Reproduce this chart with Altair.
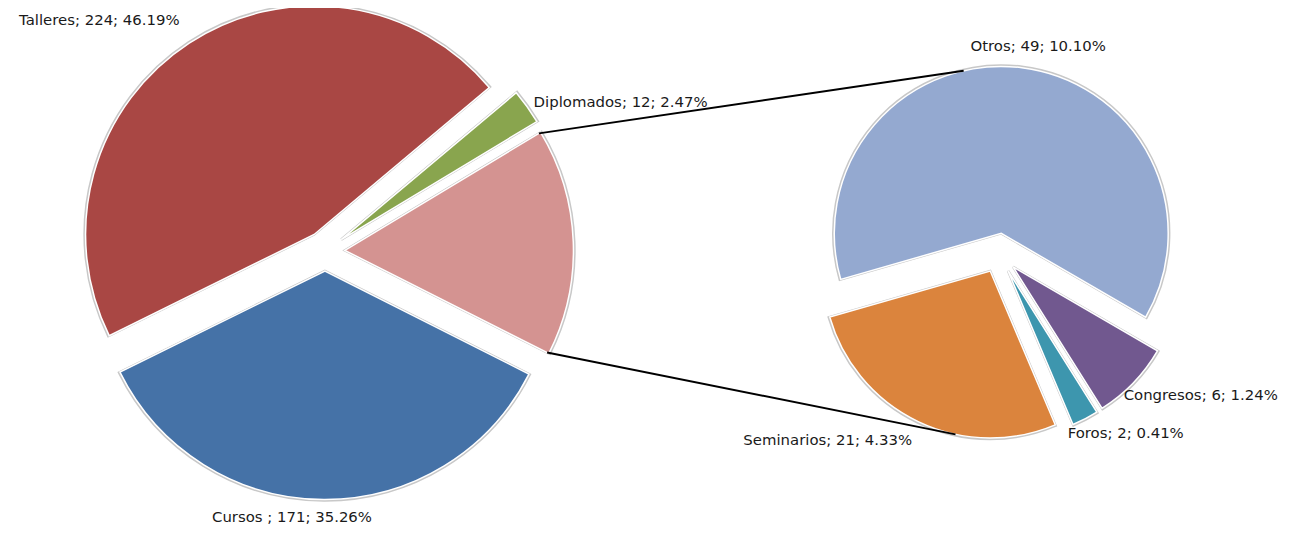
import math
import altair as alt
import pandas as pd

# ---------------- data ----------------
main_cats = ["Diplomados", "Otros (agrupado)", "Cursos", "Talleres"]
main_vals = [12, 78, 171, 224]
main_names = ["Diplomados", "", "Cursos ", "Talleres"]

sec_cats = ["Otros", "Congresos", "Foros", "Seminarios"]
sec_vals = [49, 6, 2, 21]

colors = {
    "Talleres": "#A94744", "Diplomados": "#89A54E", "Otros (agrupado)": "#D49391",
    "Cursos": "#4572A7", "Otros": "#94A9D0", "Seminarios": "#DB843D",
    "Foros": "#3D96AE", "Congresos": "#71588F",
}

# ---------------- layout / style ----------------
W, H = 1283, 526
MAIN = dict(cx=327, cy=251, r=230, d=20, start=50.0)
SEC = dict(cx=1005, cy=253, r=168, d=20, start=254.0)
# label placement: (radius, angle nudge in degrees, align)
main_lab = {"Diplomados": (258, 0.0, "left"), "Cursos": (270, 6.8, "center"),
            "Talleres": (275, 1.0, "right")}
sec_lab = {"Otros": (212, 3.7, "center"), "Congresos": (190, 4.6, "left"),
           "Foros": (194, 6.6, "left"), "Seminarios": (207, -0.6, "right")}

total = sum(main_vals)

def build(cats, vals, geo, names, labs):
    rows, texts = [], []
    s = sum(vals)
    a = geo["start"]
    for c, v, n in zip(cats, vals, names):
        span = v / s * 360.0
        t0, t1 = a, a + span
        mid = math.radians((t0 + t1) / 2)
        cx = geo["cx"] + geo["d"] * math.sin(mid)
        cy = geo["cy"] - geo["d"] * math.cos(mid)
        rows.append(dict(cat=c, t0=math.radians(t0), t1=math.radians(t1), x=cx, y=cy,
                         mid=mid, ecx=cx, ecy=cy))
        if n and c in labs:
            lr, nud, al = labs[c]
            la = mid + math.radians(nud)
            texts.append(dict(label=f"{n}; {v}; {v / total * 100:.2f}%",
                              x=geo["cx"] + lr * math.sin(la),
                              y=geo["cy"] - lr * math.cos(la), align=al))
        a = t1
    return rows, texts

m_rows, m_txt = build(main_cats, main_vals, MAIN, main_names, main_lab)
s_rows, s_txt = build(sec_cats, sec_vals, SEC, sec_cats, sec_lab)

# connector lines from the grouped slice to the secondary pie
g = [r for r in m_rows if r["cat"] == "Otros (agrupado)"][0]
ot = [r for r in s_rows if r["cat"] == "Otros"][0]
se = [r for r in s_rows if r["cat"] == "Seminarios"][0]
def pt(cx, cy, r, th):
    return cx + r * math.sin(th), cy - r * math.cos(th)
p1 = pt(g["ecx"], g["ecy"], MAIN["r"] - 2, g["t0"])
p2 = pt(ot["ecx"], ot["ecy"], SEC["r"], math.radians(-13))
p3 = pt(g["ecx"], g["ecy"], MAIN["r"] - 2, g["t1"])
p4 = pt(se["ecx"], se["ecy"], SEC["r"], math.radians(192))
lines = pd.DataFrame([dict(x=p1[0], y=p1[1], x2=p2[0], y2=p2[1]),
                      dict(x=p3[0], y=p3[1], x2=p4[0], y2=p4[1])])

xs = alt.Scale(domain=[8, 8 + W], range=[0, W])
ys = alt.Scale(domain=[8, 8 + H], range=[0, H])
col = alt.Scale(domain=list(colors.keys()), range=list(colors.values()))

def pie(rows, r):
    df = pd.DataFrame(rows)
    base = alt.Chart(df).encode(
        x=alt.X("x:Q", scale=xs, axis=None),
        y=alt.Y("y:Q", scale=ys, axis=None),
        theta=alt.Theta("t0:Q", scale=None),
        theta2="t1:Q",
        color=alt.Color("cat:N", scale=col, legend=None),
    )
    shadow = base.mark_arc(radius=r + 1, stroke="#c8c8c8", strokeWidth=2.5)
    face = base.mark_arc(radius=r, stroke="white", strokeWidth=1.5)
    return shadow + face

def labels(texts):
    df = pd.DataFrame(texts)
    out = []
    for al in ["left", "center", "right"]:
        sub = df[df["align"] == al]
        if len(sub) == 0:
            continue
        out.append(alt.Chart(sub).mark_text(align=al, baseline="middle", font="DejaVu Sans",
                                            fontSize=15, color="#1a1a1a").encode(
            x=alt.X("x:Q", scale=xs, axis=None),
            y=alt.Y("y:Q", scale=ys, axis=None),
            text="label:N"))
    return alt.layer(*out)

conn = alt.Chart(lines).mark_rule(color="black", strokeWidth=2).encode(
    x=alt.X("x:Q", scale=xs, axis=None), y=alt.Y("y:Q", scale=ys, axis=None),
    x2="x2:Q", y2="y2:Q")

chart = alt.layer(
    pie(m_rows, MAIN["r"]),
    pie(s_rows, SEC["r"]),
    conn,
    labels(m_txt + s_txt),
).properties(
    width=W, height=H, padding=0, background="white",
    autosize=alt.AutoSizeParams(type="none"),
).configure_view(strokeWidth=0, stroke="transparent")

chart.save("out.html", embed_options={"renderer": "svg", "actions": False})
